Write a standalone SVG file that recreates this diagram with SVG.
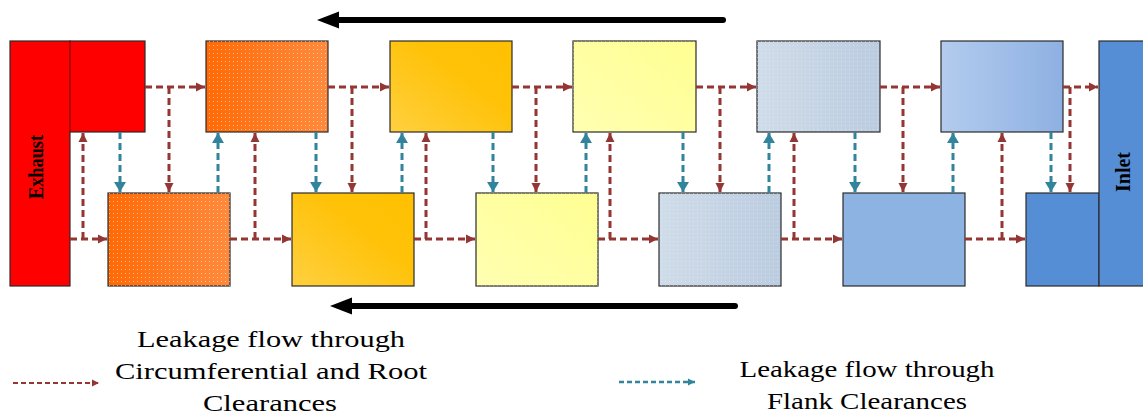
<svg xmlns="http://www.w3.org/2000/svg" width="1143" height="415" viewBox="0 0 1143 415">
<style>
.box{stroke:#2b2b2b;stroke-width:1.2}
.red{fill:none;stroke:#943634;stroke-width:3;stroke-dasharray:7 4}
.teal{fill:none;stroke:#31849B;stroke-width:3;stroke-dasharray:7 4}
.lbl{font-family:"Liberation Serif","Times New Roman",serif;font-size:24px;fill:#000}
.vl{font-family:"Liberation Serif","Times New Roman",serif;font-weight:bold;fill:#000}
</style>
<defs>
<marker id="ar" markerUnits="userSpaceOnUse" markerWidth="10" markerHeight="10" refX="9" refY="5" orient="auto"><path d="M0,0.5 L9,5 L0,9.5 z" fill="#943634"/></marker>
<marker id="at" markerUnits="userSpaceOnUse" markerWidth="12" markerHeight="12" refX="10" refY="6" orient="auto"><path d="M0,0 L10,6 L0,12 z" fill="#31849B"/></marker>
<marker id="arS" markerUnits="userSpaceOnUse" markerWidth="8" markerHeight="8" refX="7" refY="4" orient="auto"><path d="M0,0.5 L7,4 L0,7.5 z" fill="#943634"/></marker>
<marker id="atS" markerUnits="userSpaceOnUse" markerWidth="8" markerHeight="8" refX="7" refY="4" orient="auto"><path d="M0,0.5 L7,4 L0,7.5 z" fill="#31849B"/></marker>
<pattern id="dots" width="4" height="4" patternUnits="userSpaceOnUse"><rect x="1" y="1" width="1" height="1" fill="#fff" opacity="0.5"/></pattern>
<linearGradient id="gOr" x1="0" y1="0" x2="1" y2="0"><stop offset="0" stop-color="#FF6A05"/><stop offset="1" stop-color="#FF8A3C"/></linearGradient>
<linearGradient id="gGo" x1="0" y1="1" x2="1" y2="0"><stop offset="0" stop-color="#FFD040"/><stop offset="0.6" stop-color="#FFC208"/><stop offset="1" stop-color="#FFC000"/></linearGradient>
<linearGradient id="gYe" x1="0" y1="1" x2="1" y2="0"><stop offset="0" stop-color="#FFFFB0"/><stop offset="1" stop-color="#FFFF90"/></linearGradient>
<linearGradient id="gSt" x1="0" y1="0" x2="1" y2="0"><stop offset="0" stop-color="#CFDCE9"/><stop offset="1" stop-color="#BCCCE0"/></linearGradient>
<linearGradient id="gLb" x1="0" y1="0" x2="1" y2="0"><stop offset="0" stop-color="#B3CCEE"/><stop offset="1" stop-color="#8EB0E2"/></linearGradient>
</defs>

<g id="exhaust">
<rect class="box" x="10" y="41" width="60" height="245" fill="#FF0000"/>
<rect class="box" x="70" y="41" width="75" height="91" fill="#FF0000"/>
<line x1="70" y1="41" x2="70" y2="132" stroke="#B00000" stroke-width="2"/>
<text class="vl" font-size="21" transform="translate(43,167) rotate(-90)" text-anchor="middle" textLength="64" lengthAdjust="spacingAndGlyphs">Exhaust</text>
</g>
<g id="t1"><rect class="box" x="206" y="41" width="122" height="91" fill="url(#gOr)"/><rect x="206" y="41" width="122" height="91" fill="url(#dots)"/></g>
<g id="t2"><rect class="box" x="390" y="41" width="122" height="91" fill="url(#gGo)"/></g>
<g id="t3"><rect class="box" x="573" y="41" width="123" height="91" fill="url(#gYe)"/><rect x="573" y="41" width="123" height="91" fill="url(#dots)" opacity="0.6"/></g>
<g id="t4"><rect class="box" x="757" y="41" width="123" height="91" fill="url(#gSt)"/><rect x="757" y="41" width="123" height="91" fill="url(#dots)" opacity="0.7"/></g>
<g id="t5"><rect class="box" x="941" y="41" width="122" height="91" fill="url(#gLb)"/></g>
<g id="b1"><rect class="box" x="108" y="193" width="122" height="93" fill="url(#gOr)"/><rect x="108" y="193" width="122" height="93" fill="url(#dots)"/></g>
<g id="b2"><rect class="box" x="292" y="193" width="122" height="93" fill="url(#gGo)"/></g>
<g id="b3"><rect class="box" x="476" y="193" width="122" height="93" fill="url(#gYe)"/><rect x="476" y="193" width="122" height="93" fill="url(#dots)" opacity="0.6"/></g>
<g id="b4"><rect class="box" x="659" y="193" width="122" height="93" fill="url(#gSt)"/><rect x="659" y="193" width="122" height="93" fill="url(#dots)" opacity="0.7"/></g>
<g id="b5"><rect class="box" x="843" y="193" width="122" height="93" fill="#8DB3E2"/></g>
<g id="b6"><rect class="box" x="1026" y="193" width="73" height="93" fill="#558ED5"/></g>
<g id="inlet">
<rect class="box" x="1099" y="41" width="45" height="245" fill="#558ED5"/>
<text class="vl" font-size="21" transform="translate(1130,172) rotate(-90)" text-anchor="middle" textLength="40" lengthAdjust="spacingAndGlyphs">Inlet</text>
</g>

<g id="connectors">
<path class="red" d="M145,87 H205" marker-end="url(#ar)"/>
<path class="red" d="M328,87 H389" marker-end="url(#ar)"/>
<path class="red" d="M512,87 H572" marker-end="url(#ar)"/>
<path class="red" d="M696,87 H756" marker-end="url(#ar)"/>
<path class="red" d="M880,87 H940" marker-end="url(#ar)"/>
<path class="red" d="M1063,87 H1098" marker-end="url(#ar)"/>
<path class="red" d="M169,87 V192" marker-end="url(#ar)"/>
<path class="red" d="M352,87 V192" marker-end="url(#ar)"/>
<path class="red" d="M536,87 V192" marker-end="url(#ar)"/>
<path class="red" d="M720,87 V192" marker-end="url(#ar)"/>
<path class="red" d="M903,87 V192" marker-end="url(#ar)"/>
<path class="red" d="M1070,87 V192" marker-end="url(#ar)"/>
<path class="red" d="M70,239 H107" marker-end="url(#ar)"/>
<path class="red" d="M230,239 H291" marker-end="url(#ar)"/>
<path class="red" d="M414,239 H475" marker-end="url(#ar)"/>
<path class="red" d="M598,239 H658" marker-end="url(#ar)"/>
<path class="red" d="M781,239 H842" marker-end="url(#ar)"/>
<path class="red" d="M965,239 H1025" marker-end="url(#ar)"/>
<path class="red" d="M83,239 V133" marker-end="url(#ar)"/>
<path class="red" d="M255,239 V133" marker-end="url(#ar)"/>
<path class="red" d="M426,239 V133" marker-end="url(#ar)"/>
<path class="red" d="M610,239 V133" marker-end="url(#ar)"/>
<path class="red" d="M794,239 V133" marker-end="url(#ar)"/>
<path class="red" d="M1002,239 V133" marker-end="url(#ar)"/>
<path class="teal" d="M120,132 V192" marker-end="url(#at)"/>
<path class="teal" d="M316,132 V192" marker-end="url(#at)"/>
<path class="teal" d="M493,132 V192" marker-end="url(#at)"/>
<path class="teal" d="M683,132 V192" marker-end="url(#at)"/>
<path class="teal" d="M855,132 V192" marker-end="url(#at)"/>
<path class="teal" d="M1051,132 V192" marker-end="url(#at)"/>
<path class="teal" d="M218,193 V133" marker-end="url(#at)"/>
<path class="teal" d="M402,193 V133" marker-end="url(#at)"/>
<path class="teal" d="M586,193 V133" marker-end="url(#at)"/>
<path class="teal" d="M769,193 V133" marker-end="url(#at)"/>
<path class="teal" d="M953,193 V133" marker-end="url(#at)"/>
<line x1="723" y1="20" x2="336" y2="20" stroke="#000" stroke-width="6" stroke-linecap="round"/>
<polygon points="317,20 339,11.5 339,28.5" fill="#000"/>
<line x1="735" y1="306" x2="349" y2="306" stroke="#000" stroke-width="6" stroke-linecap="round"/>
<polygon points="330,306 352,297.5 352,314.5" fill="#000"/>
<path d="M13,383 H99" fill="none" stroke="#943634" stroke-width="2" stroke-dasharray="5 3" marker-end="url(#arS)"/>
<path d="M619,382 H695" fill="none" stroke="#31849B" stroke-width="2.5" stroke-dasharray="5 3" marker-end="url(#atS)"/>
</g>

<g id="legend">
<text class="lbl" x="271" y="347" text-anchor="middle" textLength="268" lengthAdjust="spacingAndGlyphs">Leakage flow through</text>
<text class="lbl" x="271" y="379" text-anchor="middle" textLength="312" lengthAdjust="spacingAndGlyphs">Circumferential and Root</text>
<text class="lbl" x="270" y="411" text-anchor="middle" textLength="134" lengthAdjust="spacingAndGlyphs">Clearances</text>
<text class="lbl" x="867" y="377" text-anchor="middle" textLength="255" lengthAdjust="spacingAndGlyphs">Leakage flow through</text>
<text class="lbl" x="867" y="409" text-anchor="middle" textLength="200" lengthAdjust="spacingAndGlyphs">Flank Clearances</text>
</g>
</svg>
